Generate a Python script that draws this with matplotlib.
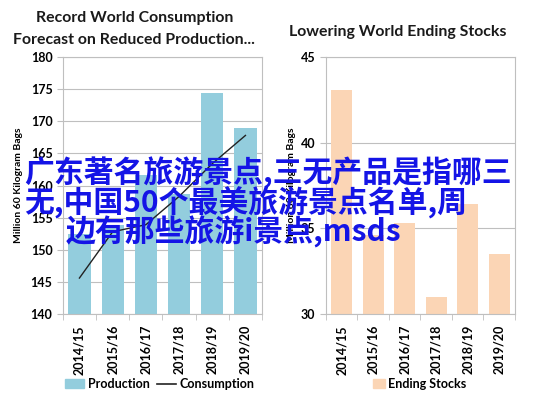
import numpy as np
import matplotlib
matplotlib.use('Agg')
import matplotlib.pyplot as plt
from matplotlib.patches import Patch
from matplotlib.lines import Line2D

plt.rcParams['font.family'] = ['Lato', 'Noto Sans CJK SC', 'DejaVu Sans']

years = ['2014/15', '2015/16', '2016/17', '2017/18', '2018/19', '2019/20']
production = [152.5, 153.8, 161.6, 158.7, 174.4, 169.0]
consumption = [145.6, 152.8, 153.9, 158.3, 163.4, 167.8]
ending_stocks = [43.1, 34.6, 35.3, 31.0, 36.4, 33.5]

blue_bar = '#93CDDD'
peach_bar = '#FBD5B5'
grid_c = '#BFBFBF'
overlay_lines = ['广东著名旅游景点,三无产品是指哪三',
                 '无,中国50个最美旅游景点名单,周',
                 '边有那些旅游i景点,msds']


def style_axes(ax, ymin, ymax, step):
    x = np.arange(len(years))
    ax.set_xlim(-0.5, len(years) - 0.5)
    ax.set_ylim(ymin, ymax)
    ax.set_yticks(np.arange(ymin, ymax + 0.1, step))
    ax.set_xticks(x)
    ax.set_xticklabels(years, rotation=90, fontsize=9, fontweight='bold')
    ax.set_xticks(np.arange(-0.5, len(years)), minor=True)
    ax.tick_params(axis='x', which='major', length=0, pad=8)
    ax.tick_params(axis='x', which='minor', length=4, color=grid_c)
    ax.tick_params(axis='y', length=4, color=grid_c, labelsize=9)
    for lab in ax.get_yticklabels():
        lab.set_fontweight('bold')
    ax.grid(axis='y', color=grid_c, linewidth=0.8)
    ax.set_axisbelow(True)
    for s in ax.spines.values():
        s.set_color(grid_c)
        s.set_linewidth(0.8)
    ax.set_ylabel('Million 60 Kilogram Bags', fontsize=7.5, fontweight='bold')


fig = plt.figure(figsize=(5.37, 3.99), dpi=100)

ax1 = fig.add_axes([0.117, 0.213, 0.371, 0.644])
x = np.arange(len(years))
ax1.bar(x, production, width=0.67, color=blue_bar)
ax1.plot(x, consumption, color='#222222', linewidth=1.0)
style_axes(ax1, 140, 180, 5)
ax1.yaxis.set_label_coords(-0.2, 0.5)

ax2 = fig.add_axes([0.607, 0.213, 0.352, 0.644])
ax2.bar(x, ending_stocks, width=0.67, color=peach_bar)
style_axes(ax2, 30, 45, 5)
ax2.yaxis.set_label_coords(-0.16, 0.5)

fig.text(0.25, 0.955, 'Record World Consumption', ha='center', va='center',
         fontsize=11.4, fontweight='bold', color='#1a1a1a')
fig.text(0.25, 0.9, 'Forecast on Reduced Production...', ha='center', va='center',
         fontsize=11.4, fontweight='bold', color='#1a1a1a')
fig.text(0.741, 0.92, 'Lowering World Ending Stocks', ha='center', va='center',
         fontsize=11.4, fontweight='bold', color='#1a1a1a')

h1 = [Patch(color=blue_bar), Line2D([0], [0], color='#222222', linewidth=1.2)]
fig.legend(h1, ['Production', 'Consumption'], loc='center', bbox_to_anchor=(0.298, 0.037),
           ncol=2, frameon=False, prop={'weight': 'bold', 'size': 9},
           handlelength=1.5, handletextpad=0.3, columnspacing=0.6)
fig.legend([Patch(color=peach_bar)], ['Ending Stocks'], loc='center',
           bbox_to_anchor=(0.782, 0.037), frameon=False,
           prop={'weight': 'bold', 'size': 9}, handlelength=0.9, handletextpad=0.3)

ys = [0.567, 0.492, 0.418]
xs = [0.045, 0.045, 0.123]
for t, xx, yy in zip(overlay_lines, xs, ys):
    fig.text(xx, yy, t, ha='left', va='center', fontsize=21.5, fontweight='bold',
             color='#1414E6', family=['Noto Sans CJK SC', 'DejaVu Sans'])

fig.savefig('out.png', dpi=100)
